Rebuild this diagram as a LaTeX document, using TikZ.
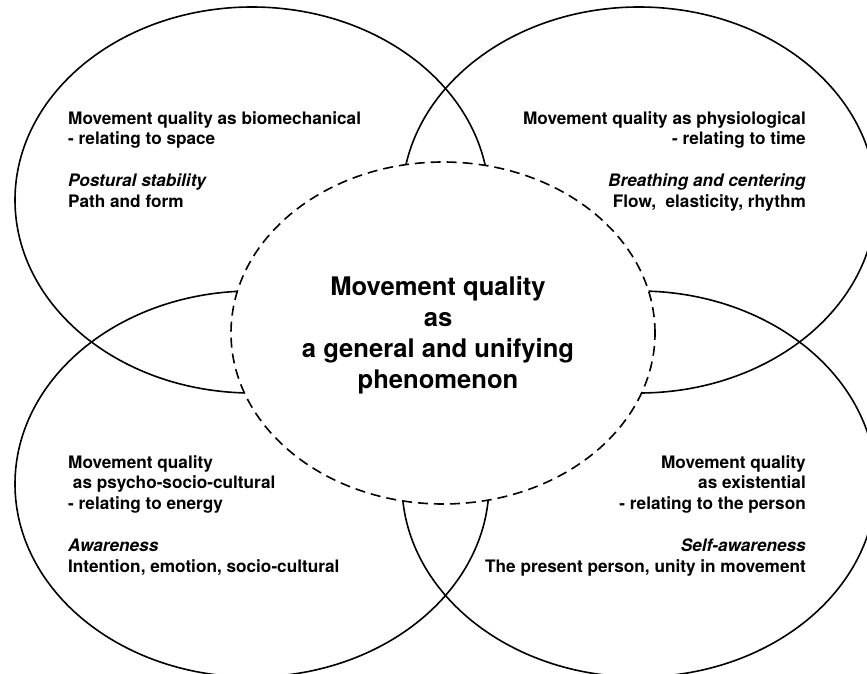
\documentclass[tikz,border=0pt]{standalone}
\usepackage{fontspec}
\setmainfont{TeX Gyre Heros}
\usetikzlibrary{shapes.geometric}
\begin{document}
\begin{tikzpicture}[x=1pt, y=-1pt,
      ring/.style={ellipse, draw, line width=1.6pt, minimum width=474pt, minimum height=386pt, inner sep=0pt},
      core/.style={ring, minimum width=424pt, minimum height=342pt, fill=white, dash pattern=on 10pt off 6pt},
      blurb/.style={inner sep=0pt, font=\fontsize{17.2}{20.8}\selectfont\bfseries},
      lblurb/.style={blurb, align=left, anchor=north west},
      rblurb/.style={blurb, align=right, anchor=north east}]
      \useasboundingbox (0,0) rectangle (867,674);
      % four aspects
      \node[ring] (space) at (252,200) {};
      \node[ring] (time) at (639,200) {};
      \node[ring] (energy) at (252,484) {};
      \node[ring] (person) at (639,484) {};
      % unifying core
      \node[core] (core) at (443,333) {};
      \node[inner sep=0pt, align=center, anchor=north, font=\fontsize{25.6}{31}\selectfont\bfseries] (phen) at (438,276)
        {Movement quality\\as\\a general and unifying\\phenomenon};
      % texts
      \node[lblurb] (bio) at (68,111) {Movement quality as biomechanical\\- relating to space\\[20.8pt]
        \textit{Postural stability}\\Path and form};
      \node[rblurb] (phys) at (806,111) {Movement quality as physiological\\- relating to time\\[20.8pt]
        \textit{Breathing and centering}\\Flow,\ \ elasticity, rhythm};
      \node[lblurb] (psy) at (68,455) {Movement quality\\\mbox{}\ as psycho-socio-cultural\\- relating to energy\\[20.8pt]
        \textit{Awareness}\\Intention, emotion, socio-cultural};
      \node[rblurb] (exi) at (806,455) {Movement quality\\as existential\\- relating to the person\\[20.8pt]
        \textit{Self-awareness}\\The present person, unity in movement};
    \end{tikzpicture}
\end{document}
